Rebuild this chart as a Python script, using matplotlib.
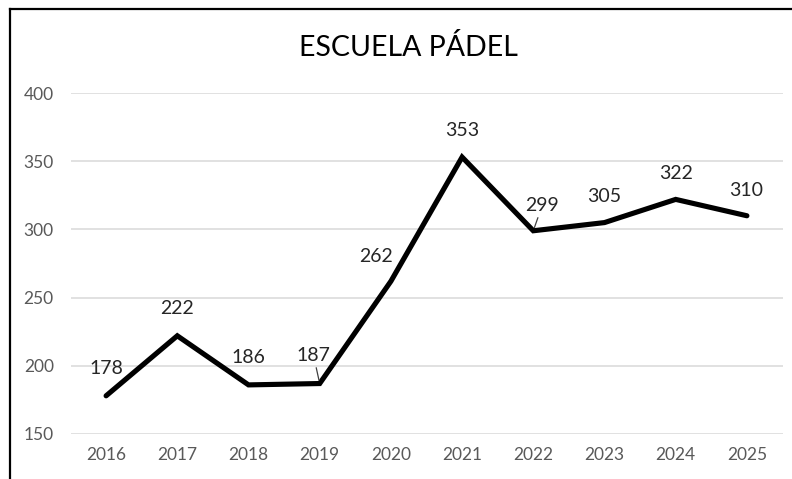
import matplotlib.pyplot as plt
from matplotlib.lines import Line2D

years = ['2016', '2017', '2018', '2019', '2020', '2021', '2022', '2023', '2024', '2025']
alumnos = [178, 222, 186, 187, 262, 353, 299, 305, 322, 310]
y_ticks = [150, 200, 250, 300, 350, 400]

# label offsets in points (dx, dy) and whether a leader line is drawn
label_off = [(0, 19.5), (0, 19.5), (0, 19.5), (-4.5, 20.5), (-11, 18), (0, 19.5), (6.5, 18.5), (0, 18.5), (0, 18.5), (-0.5, 18.5)]
leader = [False, False, False, True, False, False, True, False, False, False]

plt.rcParams['font.family'] = ['Lato', 'DejaVu Sans']

fig = plt.figure(figsize=(7.92, 4.79), dpi=100)
ax = fig.add_axes([70.5 / 792, 45 / 479, 712 / 792, 341 / 479])

x = list(range(len(years)))
ax.plot(x, alumnos, color='black', lw=3.7, solid_capstyle='round', solid_joinstyle='miter', zorder=3)

for i, v in enumerate(alumnos):
    dx, dy = label_off[i]
    kw = {}
    if leader[i]:
        kw['arrowprops'] = dict(arrowstyle='-', color='#404040', lw=0.9, shrinkA=1, shrinkB=2.5)
    ax.annotate(str(v), (i, v), xytext=(dx, dy), textcoords='offset points',
                ha='center', va='center', fontsize=14, color='#262626', zorder=4, **kw)

ax.set_xlim(-0.5, len(years) - 0.5)
ax.set_ylim(150, 400)
ax.set_yticks(y_ticks)
ax.set_xticks(x)
ax.set_xticklabels(years)
ax.grid(axis='y', color='#d9d9d9', lw=1.1)
ax.set_axisbelow(True)
for s in ax.spines.values():
    s.set_visible(False)
ax.tick_params(length=0, labelsize=12.5, labelcolor='#595959')
ax.tick_params(axis='y', pad=12)
ax.tick_params(axis='x', pad=9.5)

fig.text(408 / 792, 1 - 47 / 479, 'ESCUELA PÁDEL', ha='center', va='center', fontsize=20.5, color='black')

# outer frame (only top and left visible in the crop)
fig.add_artist(Line2D([9.5 / 792, 1], [1 - 8.5 / 479] * 2, transform=fig.transFigure, color='black', lw=1.6))
fig.add_artist(Line2D([9.5 / 792] * 2, [0, 1 - 8.5 / 479], transform=fig.transFigure, color='black', lw=1.6))

fig.savefig('out.png', dpi=100)
